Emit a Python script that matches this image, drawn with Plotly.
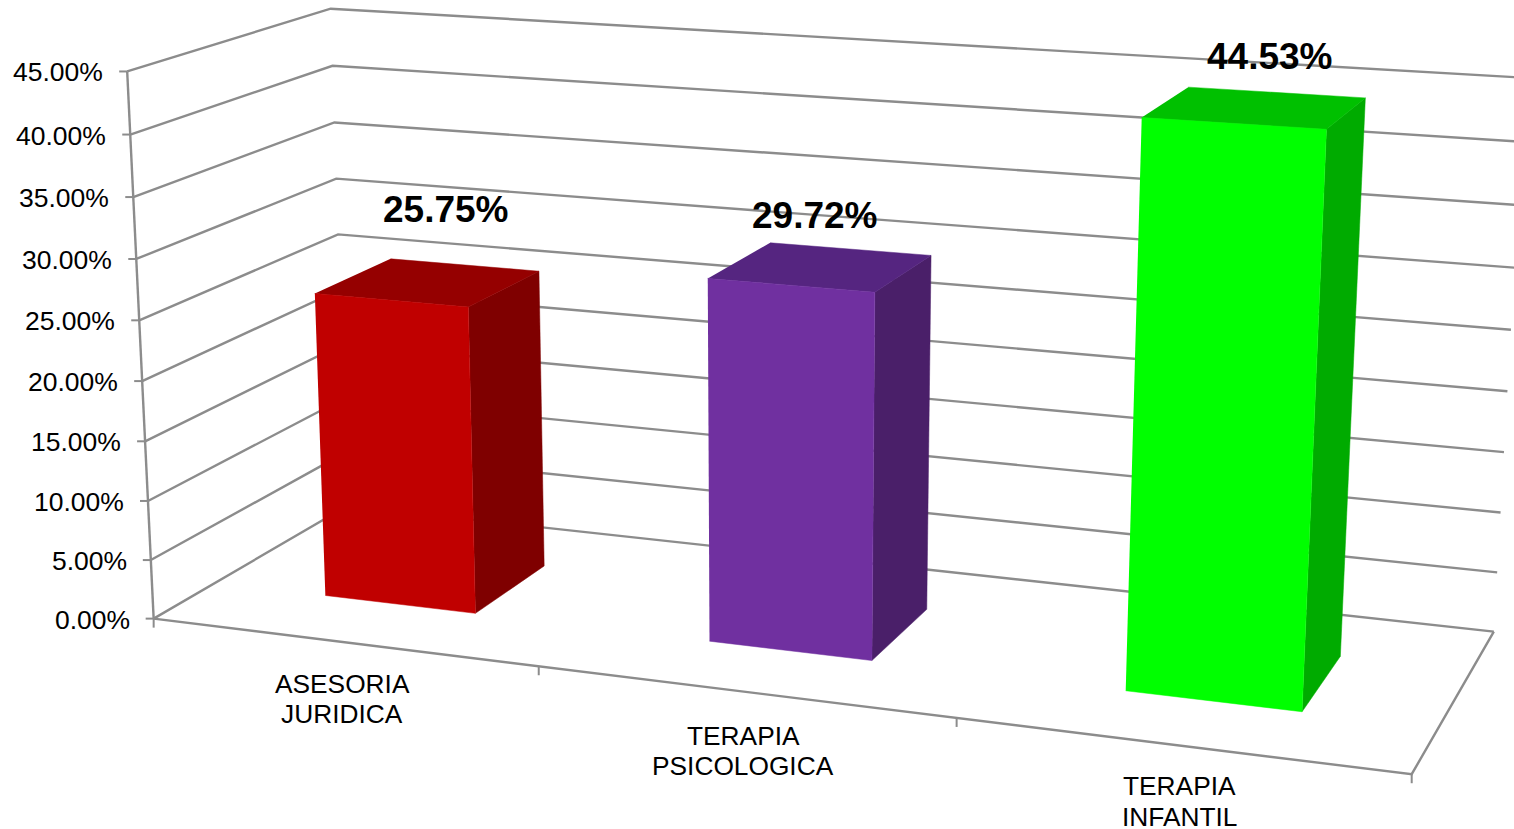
import numpy as np
import plotly.graph_objects as go

# ---- chart data ----
CATEGORIES = [["ASESORIA", "JURIDICA"], ["TERAPIA", "PSICOLOGICA"], ["TERAPIA", "INFANTIL"]]
VALUES = [0.2575, 0.2972, 0.4453]
VALUE_LABELS = ["25.75%", "29.72%", "44.53%"]
AXIS_TICKS = [0.00, 0.05, 0.10, 0.15, 0.20, 0.25, 0.30, 0.35, 0.40, 0.45]
AXIS_LABELS = ["0.00%", "5.00%", "10.00%", "15.00%", "20.00%", "25.00%", "30.00%", "35.00%", "40.00%", "45.00%"]

# ---- styles ----
FRONT_COLORS = ["#C00000", "#7030A0", "#00FF00"]
TOP_COLORS = ["#950000", "#552580", "#00C000"]
SIDE_COLORS = ["#7F0000", "#4A1F69", "#00AB00"]
GRID_COLOR = "#8C8C8C"
FONT = "Liberation Sans, Arial, sans-serif"
BAR_WIDTH = 0.4      # share of a category
DEPTH_RANGE = (0.3, 0.7)
LABEL_SHIFTS = [(18, -73), (-6, -51), (15, -51)]
CATEGORY_SHIFTS = [42, 44, 41]

# ---- perspective of the 3-D box: (across, depth, height) -> picture ----
BOX = [(0, 0, 0), (0, 0, 1), (0, 1, 0), (0, 1, 1), (1, 0, 0), (1, 1, 0), (1, 1, 1)]
PIC = [(154.6, 617.7), (126.2, 71.7), (346, 507), (331.7, 8.3), (1411.7, 775), (1494, 630.7), (1525, 78)]
rows, rhs = [], []
for (a, b, c), (u, v) in zip(BOX, PIC):
    rows.append([a, b, c, 1, 0, 0, 0, 0, -u * a, -u * b, -u * c]); rhs.append(u)
    rows.append([0, 0, 0, 0, a, b, c, 1, -v * a, -v * b, -v * c]); rhs.append(v)
M = np.append(np.linalg.lstsq(np.array(rows, float), np.array(rhs, float), rcond=None)[0], 1).reshape(3, 4)


def proj(across, depth, value):
    w = M @ np.array([across, depth, value / AXIS_TICKS[-1], 1.0])
    return w[0] / w[2], w[1] / w[2]


def polyline(points, color=GRID_COLOR, width=2.4):
    xy = [proj(*p) for p in points]
    fig.add_trace(go.Scatter(x=[p[0] for p in xy], y=[p[1] for p in xy], mode="lines",
                             line=dict(color=color, width=width), hoverinfo="skip", showlegend=False))


def face(points, color):
    xy = [proj(*p) for p in points]
    fig.add_trace(go.Scatter(x=[p[0] for p in xy], y=[p[1] for p in xy], mode="lines", fill="toself",
                             fillcolor=color, line=dict(color=color, width=0.5),
                             hoverinfo="skip", showlegend=False))


fig = go.Figure()
annotations = []


def label(x, y, text, size, anchor="center", bold=False, dx=0, dy=0):
    annotations.append(dict(x=x, y=y, xref="x", yref="y", text=f"<b>{text}</b>" if bold else text,
                            showarrow=False, xanchor=anchor, yanchor="middle", xshift=dx, yshift=-dy,
                            font=dict(family=FONT, size=size, color="#000000")))


# walls and floor
for t in AXIS_TICKS:
    polyline([(0, 0, t), (0, 1, t), (1, 1, t)])
polyline([(0, 0, 0), (1, 0, 0), (1, 1, 0)])
polyline([(0, 0, 0), (0, 0, AXIS_TICKS[-1])])

# axis tick marks and labels
for t, text in zip(AXIS_TICKS, AXIS_LABELS):
    x, y = proj(0, 0, t)
    fig.add_trace(go.Scatter(x=[x - 8, x], y=[y, y], mode="lines", line=dict(color=GRID_COLOR, width=2),
                             hoverinfo="skip", showlegend=False))
    label(x, y, text, 26.5, anchor="right", dx=-22, dy=1)
n = len(CATEGORIES)
for i in range(n + 1):
    x, y = proj(i / n, 0, 0)
    fig.add_trace(go.Scatter(x=[x, x], y=[y, y + 9], mode="lines", line=dict(color=GRID_COLOR, width=2),
                             hoverinfo="skip", showlegend=False))
for i, lines in enumerate(CATEGORIES):
    x, y = proj((i + 0.5) / n, 0, 0)
    for j, line in enumerate(lines):
        label(x, y, line, 26.3, dx=0, dy=CATEGORY_SHIFTS[i] + 30.5 * j)

# bars
y0, y1 = DEPTH_RANGE
for i, v in enumerate(VALUES):
    a0 = (i + 0.5 - BAR_WIDTH / 2) / n
    a1 = (i + 0.5 + BAR_WIDTH / 2) / n
    face([(a1, y0, 0), (a1, y1, 0), (a1, y1, v), (a1, y0, v)], SIDE_COLORS[i])
    face([(a0, y0, v), (a1, y0, v), (a1, y1, v), (a0, y1, v)], TOP_COLORS[i])
    face([(a0, y0, 0), (a1, y0, 0), (a1, y0, v), (a0, y0, v)], FRONT_COLORS[i])
    x, y = proj((i + 0.5) / n, 0.5, v)
    label(x, y, VALUE_LABELS[i], 37, bold=True, dx=LABEL_SHIFTS[i][0], dy=LABEL_SHIFTS[i][1])

fig.update_layout(width=1514, height=829, margin=dict(l=0, r=0, t=0, b=0),
                  paper_bgcolor="white", plot_bgcolor="white", showlegend=False,
                  annotations=annotations,
                  xaxis=dict(range=[0, 1514], visible=False, fixedrange=True),
                  yaxis=dict(range=[829, 0], visible=False, fixedrange=True))
fig.write_html("out.html", config=dict(displayModeBar=False),
               post_script="document.body.style.margin='0';document.body.style.overflow='hidden';")
